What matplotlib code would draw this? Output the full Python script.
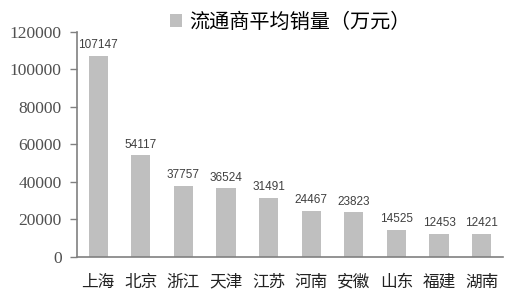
import matplotlib
matplotlib.use("Agg")
import matplotlib.pyplot as plt

provinces = ["上海", "北京", "浙江", "天津", "江苏", "河南", "安徽", "山东", "福建", "湖南"]
sales = [107147, 54117, 37757, 36524, 31491, 24467, 23823, 14525, 12453, 12421]
yticks = [0, 20000, 40000, 60000, 80000, 100000, 120000]
series_name = "流通商平均销量（万元）"

plt.rcParams["font.family"] = ["Noto Sans CJK SC", "DejaVu Sans"]

fig = plt.figure(figsize=(5.09, 2.95), dpi=100)
ax = fig.add_axes([0.151, 0.129, 0.837, 0.763])

bars = ax.bar(range(len(provinces)), sales, width=0.45, color="#bfbfbf",
              label=series_name)
for i, v in enumerate(sales):
    ax.text(i, v + 2500, str(v), ha="center", va="bottom", fontsize=8.5,
            family="Liberation Sans", color="#404040")

ax.set_xlim(-0.5, len(provinces) - 0.5)
ax.set_ylim(0, 120000)
ax.set_yticks(yticks)
ax.set_yticklabels([str(t) for t in yticks], family="Liberation Serif",
                   fontsize=12.5, color="#505050")
ax.set_xticks(range(len(provinces)))
ax.set_xticklabels(provinces, fontsize=12, color="#222222")
ax.tick_params(axis="x", length=0, pad=12)
ax.tick_params(axis="y", length=5, color="#808080", width=1, pad=6)

for s in ("top", "right"):
    ax.spines[s].set_visible(False)
for s in ("left", "bottom"):
    ax.spines[s].set_color("#808080")
    ax.spines[s].set_linewidth(1.2)

leg = ax.legend(loc="center", bbox_to_anchor=(0.571, 0.925),
                bbox_transform=fig.transFigure, frameon=False,
                fontsize=14.5, handlelength=0.6, handleheight=0.6,
                handletextpad=0.35, borderaxespad=0, borderpad=0)

fig.savefig("out.png", dpi=100)
